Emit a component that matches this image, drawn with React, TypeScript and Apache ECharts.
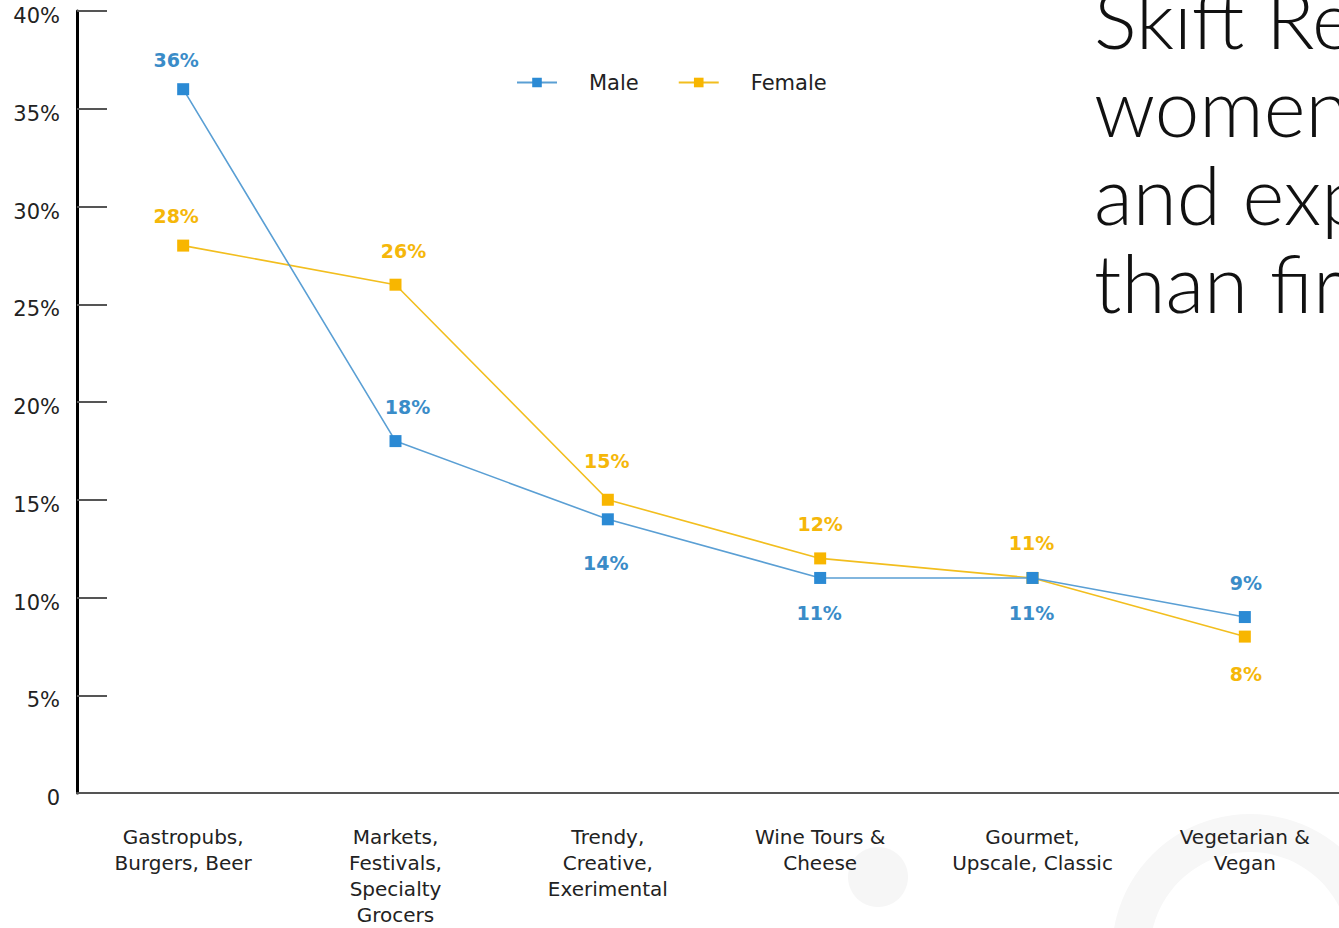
import React, { useEffect, useRef } from "react";
import * as echarts from "echarts";

const categories = [
  "Gastropubs,\nBurgers, Beer",
  "Markets,\nFestivals,\nSpecialty\nGrocers",
  "Trendy,\nCreative,\nExerimental",
  "Wine Tours &\nCheese",
  "Gourmet,\nUpscale, Classic",
  "Vegetarian &\nVegan",
];
const maleValues = [36, 18, 14, 11, 11, 9];
const femaleValues = [28, 26, 15, 12, 11, 8];
const maleLabelSide = ["top", "top", "bottom", "bottom", "bottom", "top"];
const femaleLabelSide = ["top", "top", "top", "top", "top", "bottom"];
const yTicks = [0, 5, 10, 15, 20, 25, 30, 35, 40];
const headlineLines = ["Skift Re", "women", "and exp", "than fir"];

// label nudges (layout only)
const maleLabelDx = [-7, 12, -2, -1, -1, 1];
const maleLabelExtra = [0, 5, 14, 6, 6, 5];
const femaleLabelDx = [-7, 8, -1, 0, -1, 1];
const femaleLabelExtra = [0, 4, 9, 5, 5, 8];

const MALE_LINE = "#5a9fd4";
const MALE_MARK = "#2b8ad4";
const MALE_TEXT = "#3a8cc8";
const FEMALE_LINE = "#f2be1e";
const FEMALE_MARK = "#f8b600";
const FEMALE_TEXT = "#f5b70a";
const FONT = "'DejaVu Sans', sans-serif";

export default function App() {
  const ref = useRef<HTMLDivElement>(null);
  useEffect(() => {
    if (!ref.current) return;
    const chart = echarts.init(ref.current, null, { renderer: "svg" });
    const mk = (vals: number[], sides: string[], color: string, dx: number[], extra: number[]) =>
      vals.map((v, i) => ({
        value: v,
        label: {
          position: sides[i],
          distance: 14 + extra[i],
          offset: [dx[i], 0],
          color,
        },
      }));
    const labelBase = {
      show: true,
      fontSize: 19,
      fontWeight: "bold",
      fontFamily: FONT,
      formatter: "{c}%",
    };
    chart.setOption({
      animation: false,
      backgroundColor: "#ffffff",
      textStyle: { fontFamily: FONT },
      graphic: [
        { type: "circle", shape: { cx: 878, cy: 877, r: 30 }, style: { fill: "#f6f6f6" }, z: -10 },
        { type: "ring", shape: { cx: 1250, cy: 952, r: 138, r0: 100 }, style: { fill: "#f7f7f7" }, z: -10 },
        ...headlineLines.map((t, i) => ({
          type: "text",
          left: 1094,
          top: -22 + i * 88,
          style: {
            text: t,
            fill: "#111111",
            font: "300 80px Lato, sans-serif",
          },
        })),
      ],
      legend: {
        left: 511,
        top: 67,
        itemWidth: 40,
        itemHeight: 12,
        itemGap: 39,
        textStyle: {
          fontSize: 21,
          color: "#222",
          fontFamily: FONT,
          padding: [0, 0, 0, 27],
        },
        data: ["Male", "Female"],
      },
      grid: { left: 77, right: 0, top: 11, bottom: 132 },
      xAxis: {
        type: "category",
        data: categories,
        boundaryGap: true,
        axisLine: { lineStyle: { color: "#555", width: 2 } },
        axisTick: { inside: true, length: 16, lineStyle: { color: "#333", width: 2 } },
        axisLabel: {
          margin: 31,
          fontSize: 20,
          lineHeight: 26,
          color: "#222",
          fontFamily: FONT,
          interval: 0,
        },
        splitLine: { show: false },
      },
      yAxis: {
        type: "value",
        min: yTicks[0],
        max: yTicks[yTicks.length - 1],
        interval: 5,
        axisLine: { show: true, lineStyle: { color: "#000", width: 3 } },
        axisTick: { show: true, inside: true, length: 30, lineStyle: { color: "#555", width: 2 } },
        axisLabel: {
          margin: 17,
          fontSize: 21,
          color: "#222",
          fontFamily: FONT,
          verticalAlign: "top",
          lineHeight: 10,
          formatter: (v: number) => (v === 0 ? "0" : v + "%"),
        },
        splitLine: { show: false },
      },
      series: [
        {
          name: "Male",
          type: "line",
          data: mk(maleValues, maleLabelSide, MALE_TEXT, maleLabelDx, maleLabelExtra),
          symbol: "rect",
          symbolSize: 12,
          lineStyle: { color: MALE_LINE, width: 1.6 },
          itemStyle: { color: MALE_MARK },
          label: labelBase,
          z: 3,
        },
        {
          name: "Female",
          type: "line",
          data: mk(femaleValues, femaleLabelSide, FEMALE_TEXT, femaleLabelDx, femaleLabelExtra),
          symbol: "rect",
          symbolSize: 12,
          lineStyle: { color: FEMALE_LINE, width: 1.6 },
          itemStyle: { color: FEMALE_MARK },
          label: labelBase,
          z: 2,
        },
      ],
    });
    return () => chart.dispose();
  }, []);
  return (
    <div style={{ position: "absolute", left: 0, top: 0, width: 1339, height: 928, overflow: "hidden" }}>
      <div ref={ref} style={{ width: 1351, height: 928 }} />
    </div>
  );
}
